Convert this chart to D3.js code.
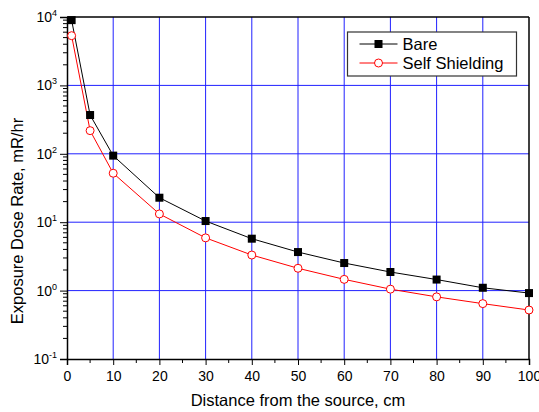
<!DOCTYPE html>
<html>
<head>
<meta charset="utf-8">
<script src="https://cdn.jsdelivr.net/npm/d3@7"></script>
<style>
body{margin:0;background:#fff;}
text{font-family:"Liberation Sans",Arial,sans-serif;fill:#000;}
</style>
</head>
<body>
<script>
// distances (cm) and dose rates
const distance = [1, 5, 10, 20, 30, 40, 50, 60, 70, 80, 90, 100];
const bare = [9000, 369, 94, 22.8, 10.4, 5.74, 3.66, 2.53, 1.87, 1.45, 1.10, 0.92];
const selfShielding = [5330, 218, 52, 13.2, 5.9, 3.31, 2.12, 1.46, 1.05, 0.81, 0.645, 0.52];
const xTicks = [0, 10, 20, 30, 40, 50, 60, 70, 80, 90, 100];
const yExponents = [-1, 0, 1, 2, 3, 4];
const seriesNames = ["Bare", "Self Shielding"];

const width = 539, height = 412;
const margin = {top:17, right:10, bottom:53, left:67};
const innerWidth = 529 - margin.left;
const innerHeight = 359 - margin.top;

let svg = d3.select("body").append("svg")
	.attr("width", width)
	.attr("height", height);

let x = d3.scaleLinear().domain([0,100]).range([0, innerWidth]);
let y = d3.scaleLog().domain([0.1,10000]).range([innerHeight, 0]);

let g = svg.append("g")
	.attr("transform","translate("+margin.left+","+margin.top+")");

//grid
g.selectAll(".vgrid")
	.data(xTicks.slice(1,-1))
	.enter().append("line")
	.attr("x1", d=>x(d)).attr("x2", d=>x(d))
	.attr("y1", 0).attr("y2", innerHeight)
	.attr("stroke","#2020ff").attr("stroke-width",1);
g.selectAll(".hgrid")
	.data(yExponents.slice(1,-1))
	.enter().append("line")
	.attr("x1", 0).attr("x2", innerWidth)
	.attr("y1", d=>y(Math.pow(10,d))).attr("y2", d=>y(Math.pow(10,d)))
	.attr("stroke","#2020ff").attr("stroke-width",1);

//minor ticks
let minorY = [];
yExponents.slice(0,-1).forEach(e=>{
	for(let k=2;k<=9;k++) minorY.push(k*Math.pow(10,e));
});
let minorX = xTicks.slice(0,-1).map(d=>d+5);

//x axis
let xAxis = g.append("g")
	.attr("transform","translate(0,"+innerHeight+")")
	.call(d3.axisBottom(x).tickValues(xTicks).tickSize(6).tickPadding(6).tickFormat(d3.format("d")));
xAxis.selectAll("text").attr("font-size","14px").attr("font-family","Liberation Sans, Arial, sans-serif");
xAxis.append("g").selectAll("line").data(minorX).enter().append("line")
	.attr("x1", d=>x(d)).attr("x2", d=>x(d)).attr("y1",0).attr("y2",4)
	.attr("stroke","#000");

//y axis
let yAxis = g.append("g")
	.call(d3.axisLeft(y).tickValues(yExponents.map(e=>Math.pow(10,e))).tickSize(7).tickPadding(4).tickFormat(""));
yAxis.append("g").selectAll("line").data(minorY).enter().append("line")
	.attr("x1",-4).attr("x2",0).attr("y1", d=>y(d)).attr("y2", d=>y(d))
	.attr("stroke","#000");
let yl = yAxis.append("g").selectAll("text").data(yExponents).enter().append("text")
	.attr("x",-10).attr("y", d=>y(Math.pow(10,d))+5)
	.attr("text-anchor","end")
	.attr("font-size","14px");
yl.append("tspan").text("10");
yl.append("tspan").attr("dy","-6").attr("font-size","9px").text(d=>d);

g.selectAll(".domain").attr("stroke","#000").attr("stroke-width",1.5);
g.selectAll(".tick line").attr("stroke","#000");

//frame top and right
g.append("line").attr("x1",0).attr("x2",innerWidth).attr("y1",0).attr("y2",0)
	.attr("stroke","#000").attr("stroke-width",1.5);
g.append("line").attr("x1",innerWidth).attr("x2",innerWidth).attr("y1",0).attr("y2",innerHeight)
	.attr("stroke","#000").attr("stroke-width",1.5);

//series
let line = d3.line()
	.x((d,i)=>x(distance[i]))
	.y(d=>y(d));

g.append("path").datum(bare)
	.attr("d", line).attr("fill","none").attr("stroke","#000").attr("stroke-width",1);
g.append("path").datum(selfShielding)
	.attr("d", line).attr("fill","none").attr("stroke","#ff0000").attr("stroke-width",1);

g.selectAll(".sq").data(bare).enter().append("rect")
	.attr("x",(d,i)=>x(distance[i])-4).attr("y", d=>y(d)-4)
	.attr("width",8).attr("height",8).attr("fill","#000");
g.selectAll(".ci").data(selfShielding).enter().append("circle")
	.attr("cx",(d,i)=>x(distance[i])).attr("cy", d=>y(d))
	.attr("r",4).attr("fill","#fff").attr("stroke","#ff0000").attr("stroke-width",1);

//legend
let lg = svg.append("g").attr("transform","translate(347.5,32)");
lg.append("rect").attr("width",169).attr("height",44)
	.attr("fill","#fff").attr("stroke","#333").attr("stroke-width",1.2);
lg.append("line").attr("x1",12).attr("x2",50).attr("y1",12).attr("y2",12).attr("stroke","#000");
lg.append("rect").attr("x",27).attr("y",8).attr("width",8).attr("height",8).attr("fill","#000");
lg.append("line").attr("x1",12).attr("x2",50).attr("y1",31).attr("y2",31).attr("stroke","#ff0000");
lg.append("circle").attr("cx",31).attr("cy",31).attr("r",4).attr("fill","#fff").attr("stroke","#ff0000");
lg.selectAll(".lt").data(seriesNames).enter().append("text")
	.attr("x",55).attr("y",(d,i)=>18+i*19)
	.attr("font-size","16.5px").text(d=>d);

//axis titles
svg.append("text")
	.attr("x", margin.left+innerWidth/2).attr("y",406)
	.attr("text-anchor","middle").attr("font-size","16.5px")
	.text("Distance from the source, cm");
svg.append("text")
	.attr("transform","translate(23,221) rotate(-90)")
	.attr("text-anchor","middle").attr("font-size","16.5px")
	.text("Exposure Dose Rate, mR/hr");
</script>
</body>
</html>
